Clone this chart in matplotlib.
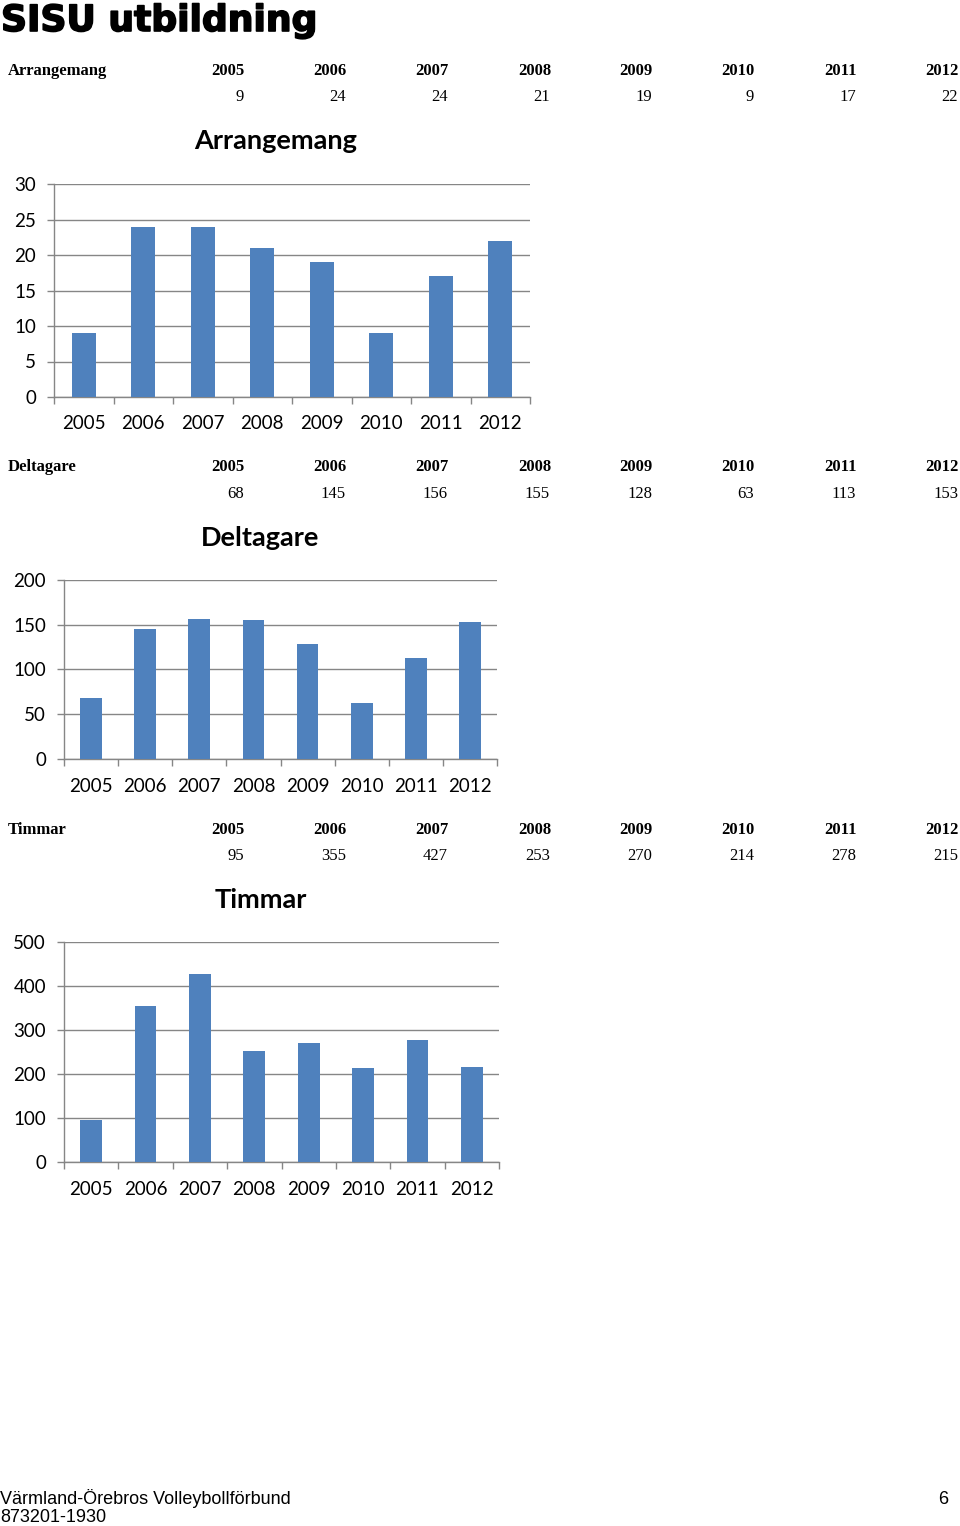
import matplotlib
matplotlib.use("Agg")
import matplotlib.pyplot as plt
import matplotlib.patheffects as pe
from matplotlib.ticker import FixedLocator

W, H = 960, 1526
years = ["2005", "2006", "2007", "2008", "2009", "2010", "2011", "2012"]
arrangemang = [9, 24, 24, 21, 19, 9, 17, 22]
deltagare = [68, 145, 156, 155, 128, 63, 113, 153]
timmar = [95, 355, 427, 253, 270, 214, 278, 215]

BAR = "#4F81BD"
GRID = "#868686"
TICKFONT = ["Lato", "DejaVu Sans"]

fig = plt.figure(figsize=(W / 100, H / 100), dpi=100)


def fx(x):
    return x / W


def fy(y):
    return 1 - y / H


def table(label, values, y_head, y_val):
    fig.text(fx(8), fy(y_head), label, family="Liberation Serif", weight="bold",
             fontsize=12, va="center", ha="left")
    for i, (yr, v) in enumerate(zip(years, values)):
        xr = 245 + 102.0 * i
        fig.text(fx(xr), fy(y_head), yr, family="Liberation Serif", weight="bold",
                 fontsize=12, va="center", ha="right")
        fig.text(fx(xr - 1), fy(y_val), str(v), family="Liberation Serif",
                 fontsize=12, va="center", ha="right")


def chart(title, values, left, top, right, bottom, ymax, step, title_x, title_y, xpad):
    ax = fig.add_axes([fx(left), 1 - bottom / H, (right - left) / W, (bottom - top) / H])
    x = range(len(values))
    ax.bar(x, values, width=0.4, color=BAR, zorder=3)
    ax.set_xlim(-0.5, len(values) - 0.5)
    ax.set_ylim(0, ymax)
    ax.set_yticks(range(0, ymax + 1, step))
    ax.set_xticks(list(x))
    ax.set_xticklabels(years)
    ax.xaxis.set_minor_locator(FixedLocator([i - 0.5 for i in range(len(values) + 1)]))
    ax.tick_params(axis="x", which="major", length=0, pad=xpad, labelsize=13.5)
    ax.tick_params(axis="x", which="minor", length=5, color=GRID, width=1)
    ax.tick_params(axis="y", length=5, color=GRID, width=1, labelsize=13.5, pad=8)
    for lab in ax.get_xticklabels() + ax.get_yticklabels():
        lab.set_family(TICKFONT)
    ax.grid(axis="y", color=GRID, linewidth=1, zorder=0)
    for s in ["top", "right"]:
        ax.spines[s].set_visible(False)
    for s in ["left", "bottom"]:
        ax.spines[s].set_color(GRID)
        ax.spines[s].set_linewidth(1)
    ax.set_facecolor("none")
    fig.text(fx(title_x), fy(title_y), title, family=TICKFONT, weight="bold",
             fontsize=19.5, ha="center", va="center")
    return ax


fig.text(fx(1), fy(31), "SISU utbildning", family="DejaVu Sans", weight="heavy",
         fontsize=26, ha="left", va="baseline",
         path_effects=[pe.withStroke(linewidth=1.2, foreground="black")])

table("Arrangemang", arrangemang, 71, 97)
chart("Arrangemang", arrangemang, 54, 184, 530, 397, 30, 5, 276, 141, 13)

table("Deltagare", deltagare, 467, 494)
chart("Deltagare", deltagare, 64, 580, 497, 759, 200, 50, 260, 538, 14)

table("Timmar", timmar, 830, 856)
chart("Timmar", timmar, 64, 942, 499, 1162, 500, 100, 261, 900, 14)

FOOT = ["Liberation Sans"]
fig.text(fx(0), fy(1499), "Värmland-Örebros Volleybollförbund", family=FOOT,
         fontsize=13, ha="left", va="center")
fig.text(fx(0), fy(1518), "873201-1930", family=FOOT, fontsize=13, ha="left", va="center")
fig.text(fx(948), fy(1499), "6", family=FOOT, fontsize=13, ha="right", va="center")

fig.savefig("out.png", dpi=100)
